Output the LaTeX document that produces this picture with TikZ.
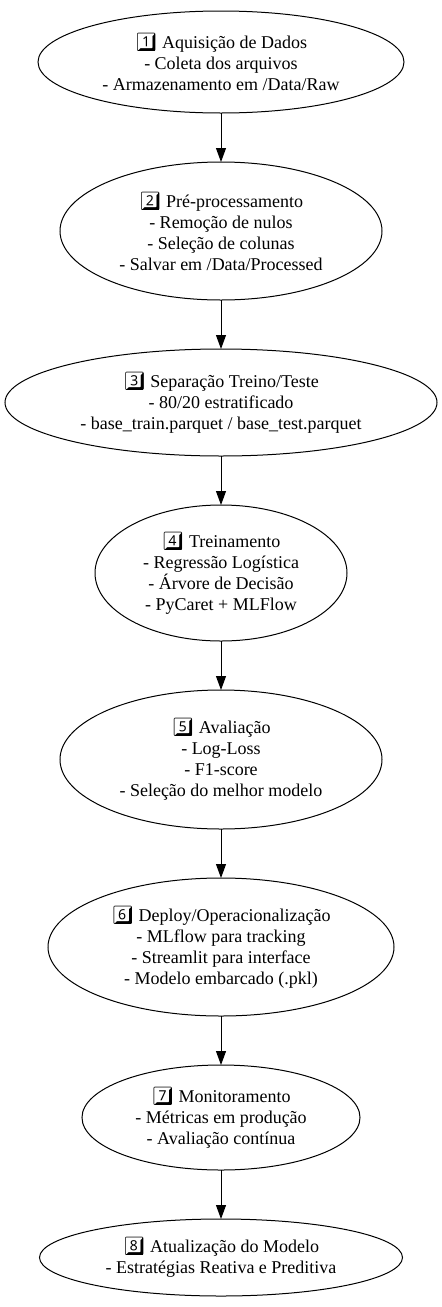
\documentclass[tikz,border=0pt]{standalone}
\usepackage{fontspec}
\setmainfont{Liberation Serif}
\newfontfamily\emoji{Noto Emoji}
\usetikzlibrary{positioning,shapes.geometric,arrows.meta}

\begin{document}
\begin{tikzpicture}[
x=0.75pt,
y=-0.75pt,
stage/.style={
  draw,
  ellipse,
  line width=0.75pt,
  inner sep=0pt,
  outer sep=0pt,
  align=center,
  font=\fontsize{13.5}{15.75}\selectfont
  },
flow/.style={
  line width=0.75pt,
  -{Triangle[length=10.5pt,width=7.5pt]}
  },
node distance=36.75pt
]
\useasboundingbox (0,0) rectangle (442,1307);
\node[stage, minimum width=274.5pt, minimum height=76.5pt] (acq) at (221,62)
  {{\emoji 1️⃣} Aquisição de Dados\\- Coleta dos arquivos\\- Armazenamento em /Data/Raw};
\node[stage, minimum width=241.5pt, minimum height=103.5pt, below=of acq] (pre)
  {{\emoji 2️⃣} Pré-processamento\\- Remoção de nulos\\- Seleção de colunas\\- Salvar em /Data/Processed};
\node[stage, minimum width=324pt, minimum height=80.25pt, below=of pre] (sep)
  {{\emoji 3️⃣} Separação Treino/Teste\\- 80/20 estratificado\\- base\_train.parquet / base\_test.parquet};
\node[stage, minimum width=189pt, minimum height=102pt, below=of sep] (train)
  {{\emoji 4️⃣} Treinamento\\- Regressão Logística\\- Árvore de Decisão\\- PyCaret + MLFlow};
\node[stage, minimum width=241.5pt, minimum height=104.25pt, below=of train] (eval)
  {{\emoji 5️⃣} Avaliação\\- Log-Loss\\- F1-score\\- Seleção do melhor modelo};
\node[stage, minimum width=259.5pt, minimum height=103.5pt, below=of eval] (deploy)
  {{\emoji 6️⃣} Deploy/Operacionalização\\- MLflow para tracking\\- Streamlit para interface\\- Modelo embarcado (.pkl)};
\node[stage, minimum width=208.5pt, minimum height=78.75pt, below=of deploy] (monit)
  {{\emoji 7️⃣} Monitoramento\\- Métricas em produção\\- Avaliação contínua};
\node[stage, minimum width=272.25pt, minimum height=57.75pt, below=of monit] (update)
  {{\emoji 8️⃣} Atualização do Modelo\\- Estratégias Reativa e Preditiva};
\foreach \a/\b in {acq/pre,pre/sep,sep/train,train/eval,eval/deploy,deploy/monit,monit/update}
  \draw[flow] (\a) -- (\b);
\end{tikzpicture}
\end{document}
